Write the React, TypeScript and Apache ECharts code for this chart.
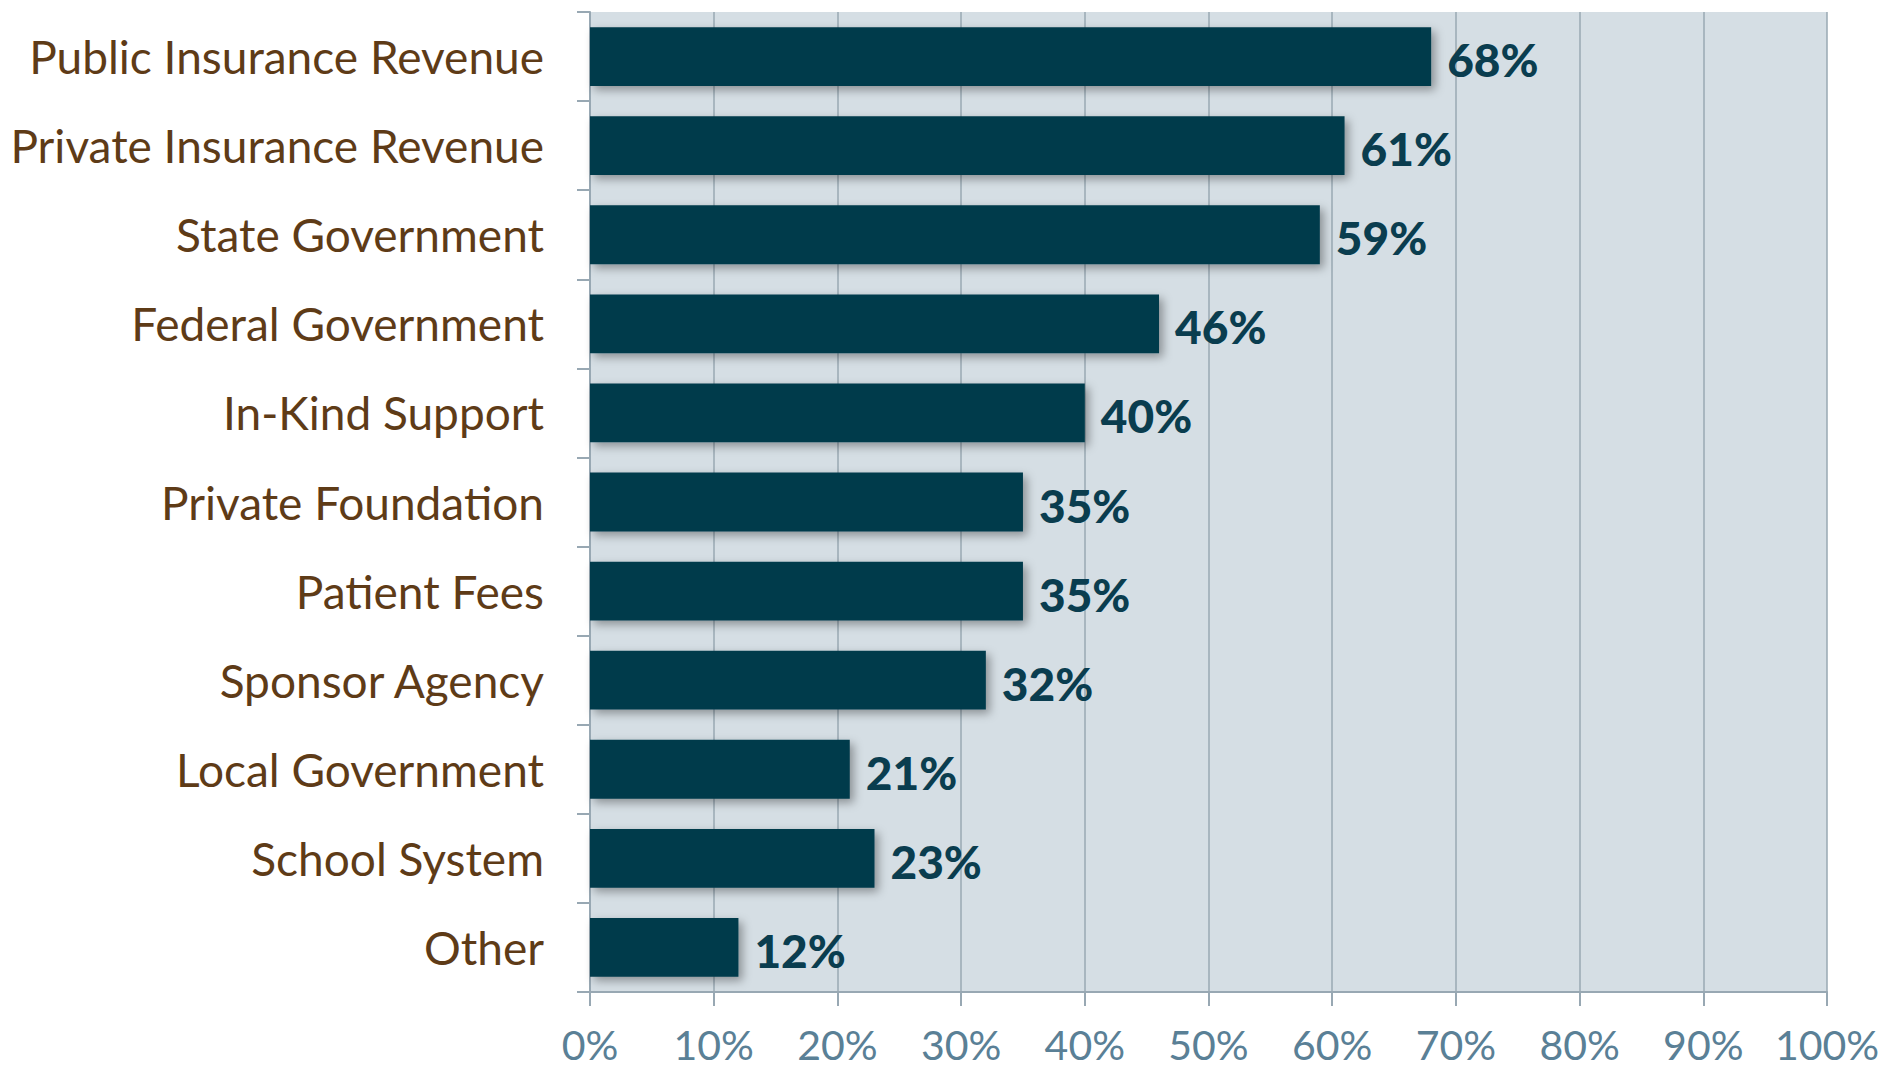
import React, { useEffect, useRef } from "react";
import * as echarts from "echarts";

const categories = [
  "Public Insurance Revenue",
  "Private Insurance Revenue",
  "State Government",
  "Federal Government",
  "In-Kind Support",
  "Private Foundation",
  "Patient Fees",
  "Sponsor Agency",
  "Local Government",
  "School System",
  "Other",
];
const values = [68, 61, 59, 46, 40, 35, 35, 32, 21, 23, 12];
const xTicks = [0, 10, 20, 30, 40, 50, 60, 70, 80, 90, 100];

const FONT = "Lato, 'Noto Sans', sans-serif";

export default function App() {
  const ref = useRef<HTMLDivElement>(null);
  useEffect(() => {
    if (!ref.current) return;
    const chart = echarts.init(ref.current, null, { renderer: "svg" });
    chart.setOption({
      animation: false,
      backgroundColor: "#ffffff",
      grid: {
        left: 590,
        right: 66,
        top: 12,
        bottom: 82,
        show: true,
        backgroundColor: "#d5dee4",
        borderWidth: 0,
      },
      xAxis: {
        type: "value",
        min: xTicks[0],
        max: xTicks[xTicks.length - 1],
        interval: 10,
        axisLine: { show: true, lineStyle: { color: "#98a8b3", width: 2 } },
        axisTick: { show: true, length: 14, lineStyle: { color: "#98a8b3", width: 2 } },
        splitLine: { show: true, lineStyle: { color: "#98a8b3", width: 1.5 } },
        axisLabel: {
          formatter: (v: number) => `${v}%`,
          color: "#5a8096",
          fontFamily: FONT,
          fontSize: 41,
          margin: 32,
        },
      },
      yAxis: {
        type: "category",
        data: categories,
        inverse: true,
        axisLine: { show: true, lineStyle: { color: "#98a8b3", width: 2 } },
        axisTick: { show: true, length: 13, lineStyle: { color: "#98a8b3", width: 2 } },
        splitLine: { show: false },
        axisLabel: {
          color: "#5e3b17",
          fontFamily: FONT,
          fontSize: 46,
          margin: 46,
        },
      },
      series: [
        {
          type: "bar",
          data: values,
          barCategoryGap: "34%",
          itemStyle: {
            color: "#023a4b",
            shadowColor: "rgba(0,0,0,0.35)",
            shadowBlur: 10,
            shadowOffsetX: 4,
            shadowOffsetY: 4,
          },
          label: {
            show: true,
            position: "right",
            distance: 16,
            formatter: (p: any) => `${p.value}%`,
            color: "#0a3d4f",
            fontFamily: FONT,
            fontWeight: 900,
            fontSize: 46,
            offset: [0, 3],
          },
        },
      ],
    });
    return () => chart.dispose();
  }, []);
  return (
    <div
      ref={ref}
      style={{ position: "absolute", left: 0, top: 0, width: 1893, height: 1074 }}
    />
  );
}
